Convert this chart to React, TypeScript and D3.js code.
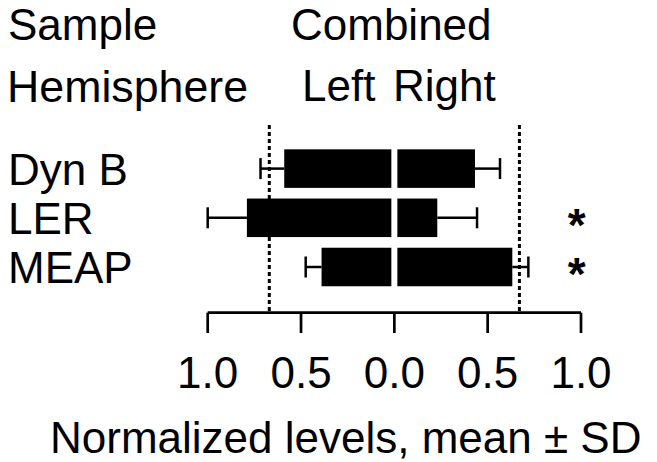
import React from "react";
import * as d3 from "d3";

const categories = ["Dyn B", "LER", "MEAP"];
const leftMean = [0.59, 0.79, 0.39];
const leftSD = [0.127, 0.21, 0.085];
const rightMean = [0.432, 0.23, 0.632];
const rightSD = [0.134, 0.213, 0.086];
const significance = ["", "*", "*"];
const thresholds = [-0.67, 0.67];
const tickValues = [-1, -0.5, 0, 0.5, 1];
const sampleLabel = "Combined";
const hemiLabels = ["Left", "Right"];
const xTitle = "Normalized levels, mean ± SD";

const W = 657;
const H = 462;
const FONT = "'Liberation Sans', Arial, Helvetica, sans-serif";
const FS = 44;

export default function App() {
  const x = d3.scaleLinear().domain([-1, 1]).range([207.7, 581]);
  const y = d3
    .scaleBand<string>()
    .domain(categories)
    .range([144, 291.6])
    .paddingInner(0.217)
    .paddingOuter(0.1085);
  const bw = y.bandwidth();
  const gap = 3;
  const capH = 21;
  const axisY = 312.7;
  const x0 = x(0);
  const fmt = (v: number) => Math.abs(v).toFixed(1);

  return (
    <svg
      width={W}
      height={H}
      style={{ position: "absolute", left: 0, top: 0, display: "block", background: "#fff" }}
      fontFamily={FONT}
    >
      <rect x={0} y={0} width={W} height={H} fill="#fff" />
      {/* header texts */}
      <text x={8} y={40} fontSize={FS}>Sample</text>
      <text x={291} y={40} fontSize={FS}>{sampleLabel}</text>
      <text x={7} y={102} fontSize={FS} textLength={241} lengthAdjust="spacingAndGlyphs">Hemisphere</text>
      <text x={302} y={101} fontSize={FS}>{hemiLabels[0]}</text>
      <text x={393} y={101} fontSize={FS}>{hemiLabels[1]}</text>

      {/* threshold dotted lines */}
      {thresholds.map((t, i) => (
        <line
          key={"t" + i}
          x1={x(t)}
          x2={x(t)}
          y1={125}
          y2={axisY}
          stroke="#000"
          strokeWidth={3}
          strokeDasharray="4,3"
        />
      ))}

      {categories.map((c, i) => {
        const yc = (y(c) as number) + bw / 2;
        const lEnd = x(-leftMean[i]);
        const lErr = x(-leftMean[i] - leftSD[i]);
        const rEnd = x(rightMean[i]);
        const rErr = x(rightMean[i] + rightSD[i]);
        return (
          <g key={c}>
            <text x={8} y={yc + 16} fontSize={FS}>{c}</text>
            {/* error bars */}
            <line x1={lErr} x2={lEnd} y1={yc} y2={yc} stroke="#000" strokeWidth={2.5} />
            <line x1={lErr} x2={lErr} y1={yc - capH / 2} y2={yc + capH / 2} stroke="#000" strokeWidth={2.5} />
            <line x1={rEnd} x2={rErr} y1={yc} y2={yc} stroke="#000" strokeWidth={2.5} />
            <line x1={rErr} x2={rErr} y1={yc - capH / 2} y2={yc + capH / 2} stroke="#000" strokeWidth={2.5} />
            {/* bars */}
            <rect x={lEnd} y={y(c)} width={x0 - gap - lEnd} height={bw} fill="#000" />
            <rect x={x0 + gap} y={y(c)} width={rEnd - x0 - gap} height={bw} fill="#000" />
            {significance[i] && (
              <text
                x={576.7}
                y={yc + 23}
                fontSize={46}
                fontWeight="bold"
                textAnchor="middle"
              >
                {significance[i]}
              </text>
            )}
          </g>
        );
      })}

      {/* axis */}
      <line x1={x(-1)} x2={x(1)} y1={axisY} y2={axisY} stroke="#000" strokeWidth={2.7} />
      {tickValues.map((t) => (
        <g key={"tick" + t}>
          <line x1={x(t)} x2={x(t)} y1={axisY} y2={333} stroke="#000" strokeWidth={2.7} />
          <text x={x(t)} y={388} fontSize={FS} textAnchor="middle">{fmt(t)}</text>
        </g>
      ))}
      <text x={50} y={452.5} fontSize={FS}>{xTitle}</text>
    </svg>
  );
}
